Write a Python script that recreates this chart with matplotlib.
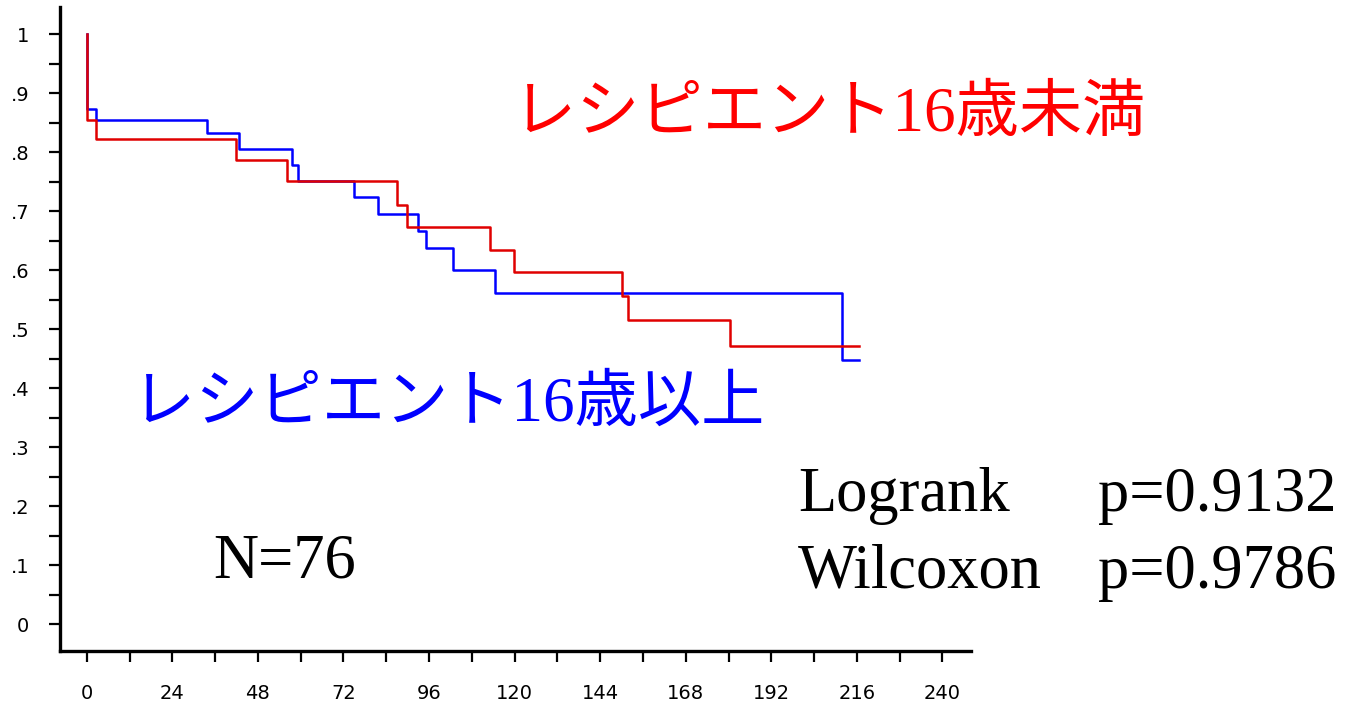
import numpy as np
import matplotlib
matplotlib.use("Agg")
import matplotlib.pyplot as plt
from matplotlib.ticker import MultipleLocator

# 生存曲線 (読み取り値)
t_over16 = [0, 0, 2.5, 33.8, 42.7, 57.7, 59.2, 74.9, 81.8, 92.9, 95.1, 102.6, 114.5, 211.8, 216.5]
s_over16 = [1.0, 0.873, 0.855, 0.833, 0.806, 0.779, 0.751, 0.724, 0.696, 0.666, 0.638, 0.601, 0.561, 0.447, 0.447]

t_under16 = [0, 0, 2.5, 42.0, 56.1, 86.9, 89.8, 113.1, 119.9, 150.2, 151.8, 180.3, 216.5]
s_under16 = [1.0, 0.855, 0.823, 0.786, 0.751, 0.710, 0.673, 0.634, 0.597, 0.556, 0.516, 0.471, 0.471]

x_ticks = list(range(0, 241, 24))
y_ticks = [0, 0.1, 0.2, 0.3, 0.4, 0.5, 0.6, 0.7, 0.8, 0.9, 1.0]
y_labels = ["0", ".1", ".2", ".3", ".4", ".5", ".6", ".7", ".8", ".9", "1"]

label_under = "レシピエント16歳未満"
label_over = "レシピエント16歳以上"
n_text = "N=76"
stats = [("Logrank", "p=0.9132"), ("Wilcoxon", "p=0.9786")]

W, H = 1360, 705
fig = plt.figure(figsize=(W / 100, H / 100), dpi=100)
ax = fig.add_axes([60 / W, 1 - 650.7 / H, (971 - 60) / W, (650.7 - 7) / H])

ax.step(t_over16, s_over16, where="post", color="#0000ff", lw=1.8)
ax.step(t_under16, s_under16, where="post", color="#e00000", lw=1.8)

ax.set_xlim(-7.5, 248)
ax.set_ylim(-0.045, 1.046)

for s in ["top", "right"]:
    ax.spines[s].set_visible(False)
for s in ["left", "bottom"]:
    ax.spines[s].set_linewidth(2.4)

ax.set_xticks(x_ticks)
ax.xaxis.set_minor_locator(MultipleLocator(12))
ax.set_yticks(y_ticks)
ax.set_yticklabels(y_labels)
ax.yaxis.set_minor_locator(MultipleLocator(0.05))

ax.tick_params(which="both", length=8, width=1.6, direction="out")
ax.tick_params(axis="x", which="major", pad=16, labelsize=14)
ax.tick_params(axis="y", which="major", pad=14, labelsize=14)

cjk = ["Liberation Serif", "Noto Sans CJK JP"]
fig.text(513 / W, 1 - 131 / H, label_under, color="red", fontsize=45.5, family=cjk, va="baseline")
fig.text(132 / W, 1 - 421 / H, label_over, color="#0000ff", fontsize=45.5, family=cjk, va="baseline")

fig.text(213 / W, 1 - 577 / H, n_text, fontsize=45, family="Liberation Serif", va="baseline")
for i, (name, p) in enumerate(stats):
    yb = 511 + i * 77
    fig.text(798 / W, 1 - yb / H, name, fontsize=45, family="Liberation Serif", va="baseline")
    fig.text(1098 / W, 1 - yb / H, p, fontsize=45, family="Liberation Serif", va="baseline")

fig.savefig("out.png", dpi=100)
